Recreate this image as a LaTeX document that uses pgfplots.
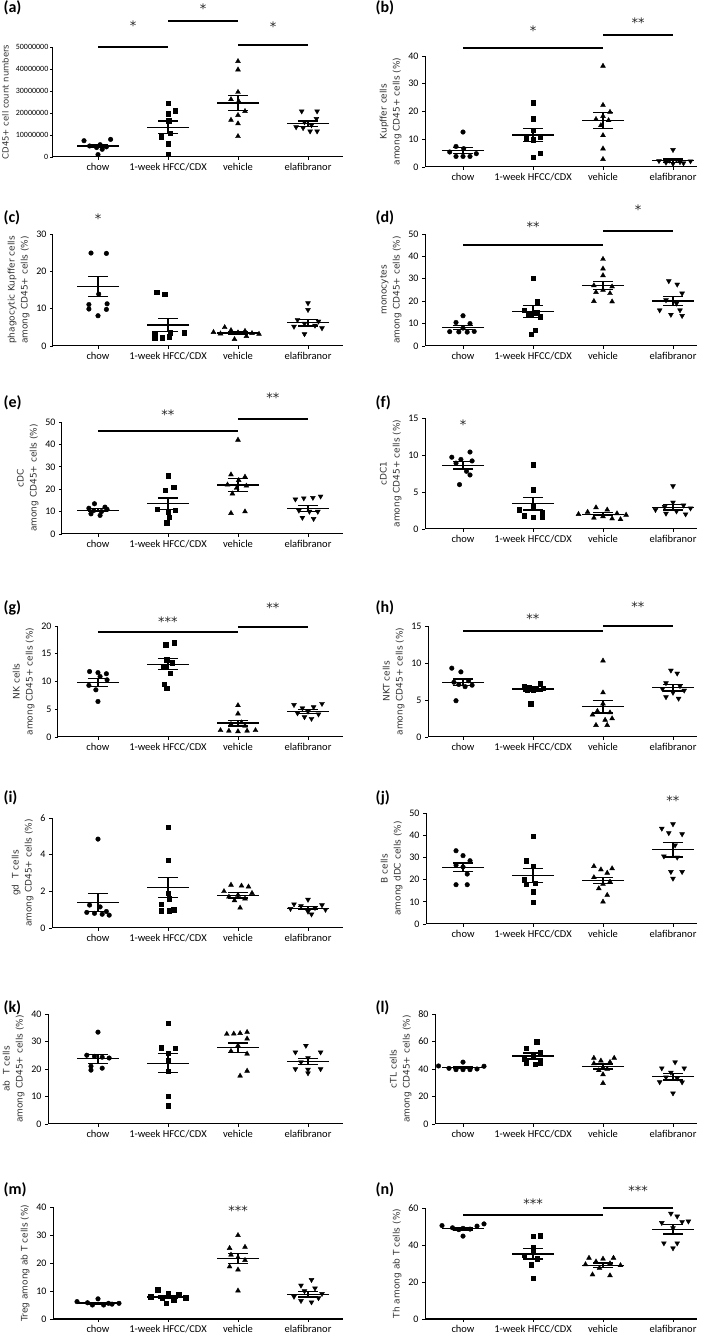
\documentclass[border=0pt]{standalone}
\usepackage{fontspec}
\setmainfont{Carlito}
\newfontfamily\labfont{DejaVu Sans}
\newfontfamily\starfont{DejaVu Sans}
\usepackage{pgfplots}
\pgfplotsset{compat=1.18}
\pgfplotsset{
 dp/.style={
  scale only axis, anchor=south west, clip=false,
  ymin=0, enlargelimits=false,
  axis x line*=bottom, axis y line*=left,
  axis line style={line width=1pt, -},
  xtick={0,1,2,3}, xticklabels={chow,1-week HFCC/CDX,vehicle,elafibranor},
  tick style={black, line width=0.8pt}, major tick length=3pt, tick align=outside,
  xticklabel style={font=\fontsize{10.5}{10.5}\selectfont},
  yticklabel style={font=\fontsize{10}{10}\selectfont},
  /pgf/number format/assume math mode=true,
  ylabel style={font=\labfont\fontsize{9}{13}\selectfont, align=center, color=black!80},
 },
 chowp/.style={only marks, mark=*, mark size=2.3pt, black},
 weekp/.style={only marks, mark=square*, mark size=2.2pt, black},
 vehp/.style={only marks, mark=triangle*, mark size=2.8pt, black},
 elafp/.style={only marks, mark=triangle*, mark size=2.8pt, black, mark options={rotate=180}},
 msem/.style={only marks, mark=-, mark size=21pt, mark options={line width=1.3pt}, black,
   error bars/.cd, y dir=both, y explicit, error bar style={line width=1.3pt},
   error mark options={rotate=90, mark size=10pt, line width=1.3pt}},
}
\tikzset{
 sig/.style={line width=1.9pt},
 star/.style={font=\starfont\fontsize{13}{13}\selectfont, text=black!85, yshift=-2.6pt},
 plab/.style={anchor=west, font=\bfseries\fontsize{16}{16}\selectfont},
}
\begin{document}
\begin{tikzpicture}[x=1pt,y=1pt]
\path[use as bounding box] (0,0) rectangle (709,1334);
% panel labels
\node[plab] at (0,1326) {(a)};
\node[plab] at (372,1326) {(b)};
\node[plab] at (0,1116) {(c)};
\node[plab] at (372,1116) {(d)};
\node[plab] at (0,931) {(e)};
\node[plab] at (372,931) {(f)};
\node[plab] at (0,726) {(g)};
\node[plab] at (372,726) {(h)};
\node[plab] at (0,536) {(i)};
\node[plab] at (372,536) {(j)};
\node[plab] at (0,326) {(k)};
\node[plab] at (372,326) {(l)};
\node[plab] at (0,144) {(m)};
\node[plab] at (372,144) {(n)};

% (a)
\begin{axis}[dp, at={(53pt,1177pt)}, width=290pt, height=110pt, xmin=-0.643, xmax=3.5, ymax=50,
  ytick={0,10,20,30,40,50}, yticklabels={0,10000000,20000000,30000000,40000000,50000000},
  yticklabel style={font=\fontsize{8}{8}\selectfont, inner xsep=1.5pt},
  ylabel={CD45+ cell count numbers},
  ylabel style={font=\labfont\fontsize{8.5}{10}\selectfont, at={(axis description cs:-0.164,0.5)}, anchor=center}]
\addplot[chowp] coordinates {(-0.20,7.4) (0.18,8.0) (0.03,5.6) (-0.12,5.0) (0.12,4.6) (-0.02,4.3) (0.06,3.5) (0.0,1.1)};
\addplot[weekp] coordinates {(1,24.5) (1.1,21.0) (1,19.7) (1.01,16.5) (1.03,10.9) (0.9,9.2) (1,6.1) (1,1.2)};
\addplot[vehp] coordinates {(2,43.5) (2,39.7) (2,29.5) (1.9,26.2) (2.01,25.3) (2.1,20.8) (2,19.0) (1.9,16.8) (2,15.2) (2,9.4)};
\addplot[elafp] coordinates {(2.91,20.8) (3.13,20.8) (3.12,17.4) (2.95,15.8) (3.05,14.5) (2.83,13.6) (2.93,13.2) (3.03,11.7) (3.13,11.7)};
\addplot[msem] coordinates {(0,5.0) +- (0,0.8) (1,13.5) +- (0,2.9) (2,24.5) +- (0,3.4) (3,15.2) +- (0,1.2)};
\draw[sig] (axis cs:0,50) -- (axis cs:1,50);
\draw[sig] (axis cs:1,61.8) -- (axis cs:2,61.8);
\draw[sig] (axis cs:2,50.9) -- (axis cs:3,50.9);
\node[star] at (axis cs:0.5,61) {*};
\node[star] at (axis cs:1.5,68.5) {*};
\node[star] at (axis cs:2.5,60.5) {*};
\end{axis}

% (b)
\begin{axis}[dp, at={(425pt,1167pt)}, width=272pt, height=111pt, xmin=-0.543, xmax=3.343, ymax=40,
  ytick={0,10,20,30,40}, ylabel={Kupffer cells\\among CD45+ cells (\%)}]
\addplot[chowp] coordinates {(0,12.6) (-0.1,7.4) (0.01,6.6) (-0.19,5.4) (0.19,4.8) (-0.1,3.8) (0,3.8) (0.1,3.8)};
\addplot[weekp] coordinates {(1,23.2) (1,17.4) (1,13.2) (1.1,10.8) (0.9,10.6) (1,9.8) (1.1,5.0) (1,3.6)};
\addplot[vehp] coordinates {(2,36.4) (2,22.3) (2.1,19.8) (2,18.3) (1.9,17.2) (2.08,16.8) (1.97,15.0) (2,11.4) (2,6.6) (2,2.8)};
\addplot[elafp] coordinates {(3,6.2) (2.8,2.2) (2.9,1.6) (3,1.2) (3.05,2.6) (3.1,1.8) (3.15,1.4) (3.25,2.1) (2.95,2.4)};
\addplot[msem] coordinates {(0,6.0) +- (0,1.1) (1,11.5) +- (0,2.3) (2,16.7) +- (0,2.9) (3,2.3) +- (0,0.6)};
\draw[sig] (axis cs:0,42.9) -- (axis cs:2,42.9);
\draw[sig] (axis cs:2,47.6) -- (axis cs:3,47.6);
\node[star] at (axis cs:1,50) {*};
\node[star] at (axis cs:2.5,52.9) {**};
\end{axis}

% (c)
\begin{axis}[dp, at={(53pt,988pt)}, width=290pt, height=112pt, xmin=-0.643, xmax=3.5, ymax=30,
  ytick={0,10,20,30}, ylabel={phagocytic Kupffer cells\\among CD45+ cells (\%)}]
\addplot[chowp] coordinates {(-0.1,24.9) (0.12,24.8) (0.01,13.9) (0.13,11.3) (-0.13,11.1) (-0.13,9.9) (0.12,9.8) (0,8.1)};
\addplot[weekp] coordinates {(0.84,14.4) (0.95,13.9) (0.81,3.4) (1.03,3.6) (1.23,3.6) (0.81,2.2) (0.92,2.2) (1.02,2.5)};
\addplot[vehp] coordinates {(1.81,5.0) (1.65,3.7) (1.75,3.3) (1.9,4.2) (2.0,3.6) (2.1,4.0) (2.2,3.4) (2.3,3.2) (1.95,1.8) (2.12,2.6)};
\addplot[elafp] coordinates {(3,11.5) (3,9.7) (2.85,7.0) (3.15,6.6) (2.95,6.0) (3.1,5.5) (2.8,5.2) (3.2,4.8) (2.95,3.2)};
\addplot[msem] coordinates {(0,15.9) +- (0,2.7) (1,5.6) +- (0,1.8) (2,3.5) +- (0,0.35) (3,6.2) +- (0,0.85)};
\node[star] at (axis cs:0,34.7) {*};
\end{axis}

% (d)
\begin{axis}[dp, at={(425pt,988pt)}, width=272pt, height=112pt, xmin=-0.543, xmax=3.343, ymax=50,
  ytick={0,10,20,30,40,50}, ylabel={monocytes\\among CD45+ cells (\%)}]
\addplot[chowp] coordinates {(0,13.5) (-0.1,10.5) (0.1,10.0) (0,8.0) (-0.19,6.4) (-0.06,6.3) (0.06,6.2) (0.16,6.5)};
\addplot[weekp] coordinates {(1,30.3) (1.06,19.8) (0.87,16.0) (1.05,14.8) (0.94,14.2) (1.1,13.0) (1.03,7.0) (0.97,5.3)};
\addplot[vehp] coordinates {(2,38.8) (2,34.5) (2,31.5) (1.87,27.0) (2.13,26.5) (2,25.0) (1.9,24.0) (2.1,23.5) (1.87,20.0) (2.13,19.8)};
\addplot[elafp] coordinates {(2.94,29.0) (3.06,27.5) (3.13,23.5) (2.9,20.5) (3.05,19.0) (2.81,16.0) (3.1,16.0) (2.97,14.0) (3.13,13.5)};
\addplot[msem] coordinates {(0,8.2) +- (0,0.95) (1,15.4) +- (0,2.8) (2,27.0) +- (0,1.9) (3,20.1) +- (0,2.1)};
\draw[sig] (axis cs:0,45.2) -- (axis cs:2,45.2);
\draw[sig] (axis cs:2,51.5) -- (axis cs:3,51.5);
\node[star] at (axis cs:1,54.5) {**};
\node[star] at (axis cs:2.5,62) {*};
\end{axis}

% (e)
\begin{axis}[dp, at={(62pt,800pt)}, width=281pt, height=112pt, xmin=-0.514, xmax=3.5, ymax=50,
  ytick={0,10,20,30,40,50}, ylabel={cDC\\among CD45+ cells (\%)}]
\addplot[chowp] coordinates {(-0.05,13.5) (0.1,12.0) (-0.13,11.5) (0.13,11.0) (-0.06,10.5) (0.05,10.0) (-0.1,9.0) (0.03,8.3)};
\addplot[weekp] coordinates {(1,26.0) (1.08,21.0) (0.96,19.5) (0.85,11.0) (1.1,10.5) (1,10.0) (1.02,7.5) (0.98,5.0)};
\addplot[vehp] coordinates {(2,42.0) (1.9,26.5) (2.1,25.5) (2.01,24.0) (1.85,22.0) (2.12,21.5) (1.98,20.5) (1.92,18.0) (2.1,10.0) (1.9,9.3)};
\addplot[elafp] coordinates {(2.82,15.5) (2.94,16.0) (3.07,16.2) (3.18,16.8) (2.87,10.5) (3.02,10.0) (3.14,10.0) (2.92,7.3) (3.08,6.8)};
\addplot[msem] coordinates {(0,10.6) +- (0,0.65) (1,13.5) +- (0,2.6) (2,21.9) +- (0,2.9) (3,11.4) +- (0,1.3)};
\draw[sig] (axis cs:0,45.8) -- (axis cs:2,45.8);
\draw[sig] (axis cs:2,51.3) -- (axis cs:3,51.3);
\node[star] at (axis cs:1,54.3) {**};
\node[star] at (axis cs:2.5,61.8) {**};
\end{axis}

% (f)
\begin{axis}[dp, at={(425pt,805pt)}, width=272pt, height=111pt, xmin=-0.543, xmax=3.343, ymax=15,
  ytick={0,5,10,15}, ylabel={cDC1\\among CD45+ cells (\%)}]
\addplot[chowp] coordinates {(0.1,10.4) (-0.16,9.7) (-0.03,9.4) (0.13,9.2) (-0.1,8.9) (0.05,7.8) (0.1,7.3) (-0.05,6.0)};
\addplot[weekp] coordinates {(1,8.7) (1,5.3) (1,3.0) (0.8,2.6) (1.13,2.3) (0.87,1.8) (1,1.6) (1.13,1.6)};
\addplot[vehp] coordinates {(1.9,2.9) (2.06,2.6) (1.78,2.3) (2.2,2.1) (1.65,2.0) (2.33,1.9) (2.0,1.7) (1.87,1.5) (2.13,1.4) (2.25,1.3)};
\addplot[elafp] coordinates {(3,5.8) (3,3.6) (3.15,3.2) (2.88,3.0) (3.25,2.8) (2.75,2.6) (3.05,2.4) (2.9,2.1) (3.18,2.0)};
\addplot[msem] coordinates {(0,8.6) +- (0,0.5) (1,3.4) +- (0,0.85) (2,2.0) +- (0,0.2) (3,2.95) +- (0,0.4)};
\node[star] at (axis cs:0,14.4) {*};
\end{axis}

% (g)
\begin{axis}[dp, at={(58pt,597pt)}, width=285pt, height=111pt, xmin=-0.571, xmax=3.5, ymax=20,
  ytick={0,5,10,15,20}, ylabel={NK cells\\among CD45+ cells (\%)}]
\addplot[chowp] coordinates {(-0.12,11.8) (0.0,11.6) (0.12,11.4) (0.03,10.9) (0.13,10.3) (-0.13,9.3) (-0.03,8.5) (0,6.4)};
\addplot[weekp] coordinates {(1.09,17.0) (0.97,16.6) (0.98,13.9) (1.06,13.4) (0.94,12.8) (1.03,11.5) (0.95,9.5) (0.98,8.8)};
\addplot[vehp] coordinates {(2,5.7) (2,4.2) (2.05,2.6) (1.9,2.3) (2.1,2.0) (1.75,1.2) (1.87,1.1) (2,1.0) (2.13,1.1) (2.25,1.2)};
\addplot[elafp] coordinates {(2.8,5.8) (3.2,6.0) (2.92,5.2) (3.08,5.4) (3,4.6) (2.85,4.3) (3.15,4.1) (2.95,3.6) (3.05,3.3)};
\addplot[msem] coordinates {(0,9.8) +- (0,0.7) (1,13.1) +- (0,1.0) (2,2.5) +- (0,0.5) (3,4.6) +- (0,0.35)};
\draw[sig] (axis cs:0,18.95) -- (axis cs:2,18.95);
\draw[sig] (axis cs:2,19.8) -- (axis cs:3,19.8);
\node[star] at (axis cs:1,21.2) {***};
\node[star] at (axis cs:2.5,23.8) {**};
\end{axis}

% (h)
\begin{axis}[dp, at={(428pt,597pt)}, width=269pt, height=111pt, xmin=-0.5, xmax=3.343, ymax=15,
  ytick={0,5,10,15}, ylabel={NKT cells\\among CD45+ cells (\%)}]
\addplot[chowp] coordinates {(-0.16,9.3) (-0.03,8.8) (-0.13,7.4) (0.08,7.6) (0.13,7.0) (-0.06,7.1) (0.03,6.8) (-0.1,4.9)};
\addplot[weekp] coordinates {(1.1,7.3) (0.87,6.8) (0.95,6.7) (1.05,6.6) (1.15,6.6) (0.92,6.4) (1.0,6.3) (0.97,4.5)};
\addplot[vehp] coordinates {(2,10.3) (2,6.0) (2,4.5) (1.92,3.5) (2.1,3.3) (1.85,3.0) (2.13,2.5) (2.03,2.3) (1.9,1.6) (2.06,1.6)};
\addplot[elafp] coordinates {(2.97,9.0) (3.06,8.6) (2.9,7.3) (3.1,6.9) (2.85,6.5) (3.16,6.3) (3.0,6.0) (2.9,5.4) (3.08,5.2)};
\addplot[msem] coordinates {(0,7.4) +- (0,0.45) (1,6.5) +- (0,0.3) (2,4.1) +- (0,0.85) (3,6.65) +- (0,0.45)};
\draw[sig] (axis cs:0,14.3) -- (axis cs:2,14.3);
\draw[sig] (axis cs:2,15.0) -- (axis cs:3,15.0);
\node[star] at (axis cs:1,16.4) {**};
\node[star] at (axis cs:2.5,18.0) {**};
\end{axis}

% (i)
\begin{axis}[dp, at={(52pt,406pt)}, width=291pt, height=110pt, xmin=-0.657, xmax=3.5, ymax=6,
  ytick={0,2,4,6}, ylabel={gd\ \ T cells\\among CD45+ cells (\%)}]
\addplot[chowp] coordinates {(0,4.85) (-0.12,1.25) (0.03,1.15) (0.12,0.9) (-0.16,0.85) (-0.05,0.8) (0.06,0.75) (0.16,0.7)};
\addplot[weekp] coordinates {(1,5.5) (1,3.7) (1,1.9) (1.02,1.6) (0.9,1.3) (1.08,1.0) (0.9,0.95) (1.02,0.95)};
\addplot[vehp] coordinates {(1.9,2.35) (2.05,2.3) (2.15,2.25) (1.8,2.0) (2.2,1.9) (2.0,1.8) (1.87,1.7) (2.1,1.6) (1.95,1.5) (2.03,1.1)};
\addplot[elafp] coordinates {(3,1.55) (2.8,1.3) (3.2,1.25) (2.9,1.2) (3.1,1.1) (2.75,1.05) (3.25,1.0) (3.0,0.9) (3.05,0.75)};
\addplot[msem] coordinates {(0,1.4) +- (0,0.5) (1,2.2) +- (0,0.55) (2,1.78) +- (0,0.15) (3,1.08) +- (0,0.08)};
\end{axis}

% (j)
\begin{axis}[dp, at={(426pt,410pt)}, width=271pt, height=111pt, xmin=-0.529, xmax=3.343, ymax=50,
  ytick={0,10,20,30,40,50}, ylabel={B cells\\among dDC cells (\%)}]
\addplot[chowp] coordinates {(-0.1,33.0) (0.0,30.8) (0.1,28.5) (-0.1,26.5) (0.0,25.7) (0.06,22.5) (-0.1,17.7) (0.06,17.7)};
\addplot[weekp] coordinates {(1,39.5) (0.9,28.5) (1.0,26.0) (0.87,20.0) (1.03,18.5) (0.9,18.0) (1.0,14.5) (1,9.8)};
\addplot[vehp] coordinates {(1.87,26) (2.13,25) (1.97,24.5) (2.06,23) (1.87,21) (2.1,19) (2.0,18) (1.94,16) (2.06,13) (2,10)};
\addplot[elafp] coordinates {(3,45.0) (2.84,43.0) (2.94,41.0) (3.13,40.5) (3.03,35.5) (2.87,30.5) (3.06,30.0) (2.97,23.5) (3.13,23.5) (3.0,20.5)};
\addplot[msem] coordinates {(0,25.5) +- (0,2.0) (1,21.9) +- (0,3.2) (2,19.6) +- (0,1.5) (3,33.4) +- (0,3.2)};
\node[star] at (axis cs:3,56.8) {**};
\end{axis}

% (k)
\begin{axis}[dp, at={(48pt,210pt)}, width=295pt, height=110pt, xmin=-0.714, xmax=3.5, ymax=40,
  ytick={0,10,20,30,40}, ylabel={ab\ \ T cells\\among CD45+ cells (\%)}]
\addplot[chowp] coordinates {(0,33.4) (-0.16,25.0) (-0.05,24.6) (0.06,24.3) (0.16,24.0) (-0.1,21.0) (0.06,20.3) (-0.1,19.6)};
\addplot[weekp] coordinates {(1,36.6) (0.9,27.8) (1.1,27.6) (1,25.8) (1,23.0) (1,19.1) (1,10.2) (1,6.6)};
\addplot[vehp] coordinates {(1.84,32.7) (1.94,32.8) (2.03,33.0) (2.13,33.4) (2.13,31.0) (2.0,28.5) (1.9,26.5) (2.13,25.5) (2.13,19.3) (2.03,17.5)};
\addplot[elafp] coordinates {(2.97,28.5) (2.82,26.1) (3.18,26.1) (3.0,24.0) (2.9,22.5) (2.82,20.0) (3.0,19.8) (3.18,20.0) (3.0,18.5)};
\addplot[msem] coordinates {(0,23.7) +- (0,1.6) (1,22.1) +- (0,3.5) (2,27.8) +- (0,1.7) (3,22.8) +- (0,1.1)};
\end{axis}

% (l)
\begin{axis}[dp, at={(435pt,210pt)}, width=262pt, height=110pt, xmin=-0.4, xmax=3.343, ymax=80,
  ytick={0,20,40,60,80}, ylabel={cTL cells\\among CD45+ cells (\%)}]
\addplot[chowp] coordinates {(0,45.0) (-0.35,42.2) (0.3,42.0) (-0.2,40.5) (-0.1,39.5) (0.0,39.5) (0.1,39.5) (0.2,40.0)};
\addplot[weekp] coordinates {(1.05,60.0) (0.9,55.0) (1.1,52.0) (1.0,49.5) (0.87,47.0) (0.9,44.5) (1.1,44.5) (1.03,43.5)};
\addplot[vehp] coordinates {(1.87,48) (2.16,48) (1.97,46) (2.1,45) (1.87,44) (2.0,41) (2.06,40) (1.94,39) (2,36) (2,29.7)};
\addplot[elafp] coordinates {(3.03,45.0) (2.84,40.6) (3.16,40.6) (2.97,37.5) (2.9,34) (3.06,33.3) (2.81,30.5) (3.13,30.4) (3.0,22.4)};
\addplot[msem] coordinates {(0,41.1) +- (0,0.7) (1,49.5) +- (0,2.2) (2,41.8) +- (0,1.8) (3,34.3) +- (0,2.4)};
\end{axis}

% (m)
\begin{axis}[dp, at={(53pt,15pt)}, width=290pt, height=112pt, xmin=-0.643, xmax=3.5, ymax=40,
  ytick={0,10,20,30,40}, ylabel={Treg among ab T cells (\%)}]
\addplot[chowp] coordinates {(-0.3,6.2) (0.0,7.2) (-0.15,5.8) (0.15,5.6) (0.3,5.6) (-0.08,5.0) (0.08,5.0) (0.2,5.3)};
\addplot[weekp] coordinates {(0.85,10.5) (1.0,9.0) (1.15,8.8) (0.75,8.0) (1.25,7.6) (0.92,7.5) (1.08,6.8) (0.97,5.6)};
\addplot[vehp] coordinates {(2,29.9) (1.88,25.3) (2.1,25.7) (1.9,22.9) (2.0,22.0) (2.1,21.0) (1.88,18.7) (2.0,17.6) (2,10.1)};
\addplot[elafp] coordinates {(3.05,14.0) (2.9,12.0) (3.1,11.0) (2.95,10.0) (3.2,9.0) (2.8,8.0) (3.15,7.5) (2.9,6.5) (3.05,6.0)};
\addplot[msem] coordinates {(0,5.7) +- (0,0.3) (1,7.9) +- (0,0.55) (2,21.6) +- (0,1.8) (3,8.8) +- (0,0.9)};
\node[star] at (axis cs:2,39.6) {***};
\end{axis}

% (n)
\begin{axis}[dp, at={(425pt,15pt)}, width=272pt, height=111pt, xmin=-0.543, xmax=3.343, ymax=60,
  ytick={0,20,40,60}, ylabel={Th among ab T cells (\%)}]
\addplot[chowp] coordinates {(-0.3,50.5) (0.3,51.4) (0.2,50.2) (-0.15,49.3) (0.0,49.0) (0.1,48.6) (-0.06,48.3) (0.0,44.8)};
\addplot[weekp] coordinates {(1.0,44.7) (1.1,45.0) (1.0,38.5) (1.0,36.5) (0.87,34.5) (1.06,32.5) (0.97,29.3) (1.0,22.1)};
\addplot[vehp] coordinates {(1.8,33) (2.0,32.5) (2.15,33) (1.9,31) (2.1,30) (1.75,29.5) (2.25,29) (1.95,27.5) (1.85,24) (2.1,23.5)};
\addplot[elafp] coordinates {(2.97,57.0) (3.06,55.5) (2.84,52.0) (3.13,52.5) (3.22,52.8) (3.0,49.2) (2.87,41.0) (3.06,41.0) (3.0,38.3)};
\addplot[msem] coordinates {(0,48.8) +- (0,0.7) (1,35.2) +- (0,2.8) (2,29.0) +- (0,1.2) (3,48.4) +- (0,2.5)};
\draw[sig] (axis cs:0,56.1) -- (axis cs:2,56.1);
\draw[sig] (axis cs:2,60) -- (axis cs:3,60);
\node[star] at (axis cs:1,64) {***};
\node[star] at (axis cs:2.5,71) {***};
\end{axis}
\end{tikzpicture}
\end{document}
